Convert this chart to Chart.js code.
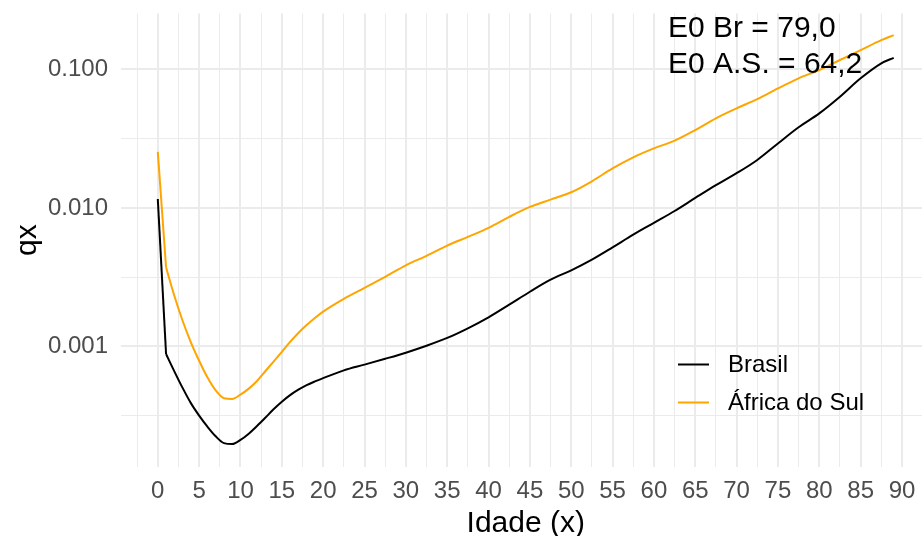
<!DOCTYPE html>
<html><head><meta charset="utf-8">
<script src="https://cdn.jsdelivr.net/npm/chart.js@4"></script>
<style>html,body{margin:0;padding:0;background:#fff}#wrap{width:922px;height:536px}</style>
</head><body><div id="wrap"><canvas id="c" width="922" height="536"></canvas></div>
<script>
// ---- data ----
const ages = [0, 1, 2, 3, 4, 5, 6, 7, 8, 9, 10, 11, 12, 13, 14, 15, 16, 17, 18, 19, 20, 22.5, 25, 27.5, 30, 32.5, 35, 37.5, 40, 42.5, 45, 47.5, 50, 52.5, 55, 57.5, 60, 62.5, 65, 67.5, 70, 72.5, 75, 77.5, 80, 82.5, 85, 87.5, 89];
const brasil = [0.0116, 0.00088, 0.00066, 0.000501, 0.000389, 0.000316, 0.000263, 0.000224, 0.0002, 0.000197, 0.000211, 0.000234, 0.000266, 0.000305, 0.000351, 0.000398, 0.000444, 0.000486, 0.000525, 0.000558, 0.000589, 0.000671, 0.000738, 0.000813, 0.0009, 0.00101, 0.00115, 0.00135, 0.00162, 0.0020, 0.00248, 0.00303, 0.00354, 0.00423, 0.00519, 0.00641, 0.0078, 0.0095, 0.0118, 0.0146, 0.0178, 0.0222, 0.0292, 0.0382, 0.0482, 0.0636, 0.0863, 0.1107, 0.1213];
const africaDoSul = [0.0254, 0.00372, 0.00232, 0.00153, 0.00107, 0.000787, 0.000597, 0.00048, 0.000422, 0.000417, 0.000448, 0.000495, 0.000562, 0.000661, 0.000776, 0.000912, 0.001076, 0.00125, 0.001426, 0.001603, 0.00178, 0.0022, 0.00264, 0.00318, 0.00385, 0.0045, 0.00534, 0.00617, 0.00717, 0.00861, 0.01016, 0.01148, 0.01297, 0.01557, 0.0193, 0.0232, 0.0269, 0.0306, 0.0365, 0.0444, 0.0524, 0.0611, 0.073, 0.0863, 0.099, 0.117, 0.138, 0.163, 0.177];
const seriesNames = ['Brasil', 'África do Sul'];
const seriesColors = ['#000000', '#FFA500'];
const xMajorTicks = [0, 5, 10, 15, 20, 25, 30, 35, 40, 45, 50, 55, 60, 65, 70, 75, 80, 85, 90];
const xMinorTicks = [-2.5, 2.5, 7.5, 12.5, 17.5, 22.5, 27.5, 32.5, 37.5, 42.5, 47.5, 52.5, 57.5, 62.5, 67.5, 72.5, 77.5, 82.5, 87.5, 92.5];
const yMajorTicks = [0.001, 0.01, 0.1];
const yMajorLabels = ['0.001', '0.010', '0.100'];
const yMinorTicks = [0.000316, 0.00316, 0.0316];
const annotationLines = ['E0 Br = 79,0', 'E0 A.S. = 64,2'];
const xTitle = 'Idade (x)';
const yTitle = 'qx';

// ---- build datasets ----
const FONT = '"Liberation Sans", Arial, Helvetica, sans-serif';
const allSeries = [brasil, africaDoSul];
const datasets = [];
allSeries.forEach((vals, s) => {
  const pts = ages.map((a, i) => ({x: a, y: vals[i]}));
  datasets.push({label: seriesNames[s], data: pts.slice(1), borderColor: seriesColors[s], backgroundColor: seriesColors[s],
    borderWidth: 2, pointRadius: 0, cubicInterpolationMode: 'monotone', fill: false});
  datasets.push({label: seriesNames[s], isHead: true, data: pts.slice(0, 2), borderColor: seriesColors[s],
    borderWidth: 2, pointRadius: 0, tension: 0, fill: false});
});

// panel continues slightly past the right edge of the picture, as in the reference
const extendPanel = {
  id: 'extendPanel',
  afterLayout(chart) {
    const s = chart.scales.x;
    const R = 930.5;
    s.right = R; s.width = R - s.left; s.configure();
    chart.chartArea.right = R; chart.chartArea.width = R - chart.chartArea.left;
  }
};

const overlay = {
  id: 'overlay',
  afterDatasetsDraw(chart) {
    const ctx = chart.ctx;
    ctx.save();
    const items = chart.data.datasets.filter(d => !d.isHead);
    items.forEach((d, i) => {
      const y = 364.5 + i * 38;
      ctx.strokeStyle = d.borderColor; ctx.lineWidth = 2;
      ctx.beginPath(); ctx.moveTo(678, y); ctx.lineTo(709, y); ctx.stroke();
      ctx.fillStyle = '#000';
      ctx.font = '24px ' + FONT;
      ctx.textBaseline = 'middle'; ctx.textAlign = 'left';
      ctx.fillText(d.label, 728, y + 1);
    });
    ctx.fillStyle = '#000';
    ctx.font = '30px ' + FONT;
    ctx.textBaseline = 'alphabetic'; ctx.textAlign = 'left';
    annotationLines.forEach((t, i) => ctx.fillText(t, 668, 36.7 + i * 36.6));
    ctx.restore();
  }
};

const isMajorX = v => xMajorTicks.includes(v);
const isMajorY = v => yMajorTicks.some(t => Math.abs(t - v) / t < 1e-6);

new Chart(document.getElementById('c'), {
  type: 'line',
  data: {datasets},
  plugins: [extendPanel, overlay],
  options: {
    responsive: false, animation: false,
    layout: {padding: {left: 0, right: 0, top: 13.5, bottom: 0}},
    plugins: {legend: {display: false}, tooltip: {enabled: false}},
    scales: {
      x: {
        type: 'linear', min: -4.45, max: 93.45,
        afterBuildTicks: s => { s.ticks = xMinorTicks.concat(xMajorTicks).sort((a, b) => a - b).map(v => ({value: v})); },
        afterFit: s => { s.height = 69.3; s.paddingLeft = 0; s.paddingRight = 0; },
        ticks: {autoSkip: false, maxRotation: 0, padding: 10, color: '#4D4D4D', font: {family: FONT, size: 24},
          callback: v => isMajorX(v) ? String(v) : ''},
        grid: {drawTicks: false, color: '#EBEBEB', lineWidth: c => (c.tick && isMajorX(c.tick.value)) ? 2 : 1},
        border: {display: false},
        title: {display: true, text: xTitle, color: '#000', font: {family: FONT, size: 30, lineHeight: 1}, padding: {top: 0, bottom: -3}}
      },
      y: {
        type: 'logarithmic', min: 0.0001351, max: 0.2536,
        afterBuildTicks: s => { s.ticks = yMinorTicks.concat(yMajorTicks).sort((a, b) => a - b).map(v => ({value: v})); },
        afterFit: s => { s.width = 121; s.paddingTop = 0; s.paddingBottom = 0; },
        ticks: {autoSkip: false, padding: 13, color: '#4D4D4D', font: {family: FONT, size: 24},
          callback: v => { const i = yMajorTicks.findIndex(t => Math.abs(t - v) / t < 1e-6); return i >= 0 ? yMajorLabels[i] : ''; }},
        grid: {drawTicks: false, color: '#EBEBEB', lineWidth: c => (c.tick && isMajorY(c.tick.value)) ? 2 : 1},
        border: {display: false},
        title: {display: true, text: yTitle, color: '#000', font: {family: FONT, size: 30, lineHeight: 1}, padding: {top: 12.5, bottom: 0}}
      }
    }
  }
});
</script></body></html>
